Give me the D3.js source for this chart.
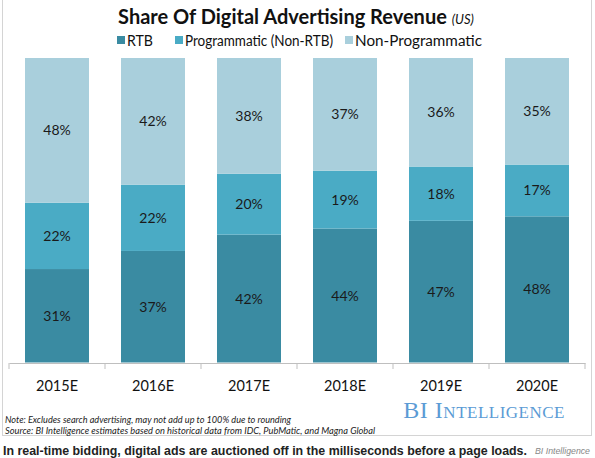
<!DOCTYPE html>
<html><head><meta charset="utf-8">
<script src="https://cdn.jsdelivr.net/npm/d3@7"></script>
<style>body{margin:0;background:#fff}svg{display:block}</style>
</head><body>
<script>
const categories = ["2015E","2016E","2017E","2018E","2019E","2020E"];
const seriesNames = ["RTB","Programmatic (Non-RTB)","Non-Programmatic"];
const rtb = [31,37,42,44,47,48];
const programmatic = [22,22,20,19,18,17];
const nonProgrammatic = [48,42,38,37,36,35];
const colors = ["#3a8ba2","#4aabc5","#a9cfdc"];

const W=595,H=458;
const F="Lato";
const svg=d3.select("body").append("svg").attr("width",W).attr("height",H);
svg.append("rect").attr("x",2.5).attr("y",-1).attr("width",589).attr("height",436.5)
  .attr("fill","none").attr("stroke","#d4d4d4").attr("stroke-width",1);

const rows=categories.map((c,i)=>({cat:c,"RTB":rtb[i],"Programmatic (Non-RTB)":programmatic[i],"Non-Programmatic":nonProgrammatic[i]}));
const stack=d3.stack().keys(seriesNames).offset(d3.stackOffsetExpand)(rows);
const raw=[rtb,programmatic,nonProgrammatic];

const x=d3.scaleBand().domain(categories).range([9,585]).paddingInner(1/3).paddingOuter(1/6);
const y=d3.scaleLinear().domain([0,1]).range([362.5,58]);

const g=svg.append("g");
stack.forEach((s,si)=>{
  g.selectAll(null).data(s).enter().append("rect")
    .attr("x",d=>x(d.data.cat)).attr("width",x.bandwidth())
    .attr("y",d=>y(d[1])).attr("height",d=>y(d[0])-y(d[1]))
    .attr("fill",colors[si]);
  g.selectAll(null).data(s).enter().append("text")
    .attr("x",d=>x(d.data.cat)+x.bandwidth()/2)
    .attr("y",d=>(y(d[0])+y(d[1]))/2).attr("dy","0.36em")
    .attr("text-anchor","middle").attr("font-family",F).attr("font-size",14)
    .attr("fill","#1a1a1a").text((d,i)=>raw[si][i]+"%");
});

const ax=svg.append("g").attr("transform","translate(0,363)")
  .call(d3.axisBottom(x).tickSize(0).tickPadding(18));
ax.select(".domain").attr("stroke","#bfbfbf");
ax.selectAll("text").attr("font-family",F).attr("font-size",14.5).attr("fill","#111");
const bounds=d3.range(categories.length+1).map(i=>9+i*96);
ax.selectAll(".bt").data(bounds).enter().append("line").attr("class","bt")
  .attr("x1",d=>d).attr("x2",d=>d).attr("y1",0).attr("y2",6).attr("stroke","#bfbfbf");

// title
const t=svg.append("text").attr("x",296).attr("y",24).attr("text-anchor","middle")
  .attr("font-family",F).attr("fill","#111");
t.append("tspan").attr("font-weight","bold").attr("font-size",20).text("Share Of Digital Advertising Revenue ");
t.append("tspan").attr("font-style","italic").attr("font-size",13).text("(US)");

// legend
const legX=[117,175,345];
const legW=[26,148,127];
seriesNames.forEach((n,i)=>{
  svg.append("rect").attr("x",legX[i]).attr("y",36).attr("width",8).attr("height",8).attr("fill",colors[i]);
  svg.append("text").attr("x",legX[i]+10).attr("y",45.5).attr("font-family",F)
    .attr("font-size",14.5).attr("fill","#111").attr("textLength",legW[i]).attr("lengthAdjust","spacingAndGlyphs").text(n);
});

// logo
svg.append("text").attr("x",565).attr("y",418).attr("text-anchor","end")
  .attr("font-family","Liberation Serif").attr("font-size",24).attr("fill","#5b9bd5")
  .style("font-variant","small-caps").attr("letter-spacing",0.5).text("BI Intelligence");

// notes
svg.append("text").attr("x",5).attr("y",423).attr("font-family",F).attr("font-style","italic")
  .attr("font-size",9.5).attr("fill","#222").attr("textLength",286).attr("lengthAdjust","spacingAndGlyphs")
  .text("Note: Excludes search advertising, may not add up to 100% due to rounding");
svg.append("text").attr("x",5).attr("y",434).attr("font-family",F).attr("font-style","italic")
  .attr("font-size",9.5).attr("fill","#222").attr("textLength",370).attr("lengthAdjust","spacingAndGlyphs")
  .text("Source: BI Intelligence estimates based on historical data from IDC, PubMatic, and Magna Global");

// caption
svg.append("text").attr("x",3).attr("y",455).attr("font-family","Liberation Sans").attr("font-weight","bold")
  .attr("font-size",12.4).attr("fill","#222")
  .text("In real-time bidding, digital ads are auctioned off in the milliseconds before a page loads.");
svg.append("text").attr("x",590).attr("y",454).attr("text-anchor","end").attr("font-family","Liberation Sans")
  .attr("font-style","italic").attr("font-size",9.5).attr("fill","#888").attr("textLength",55).attr("lengthAdjust","spacingAndGlyphs")
  .text("BI Intelligence");
</script>
</body></html>
